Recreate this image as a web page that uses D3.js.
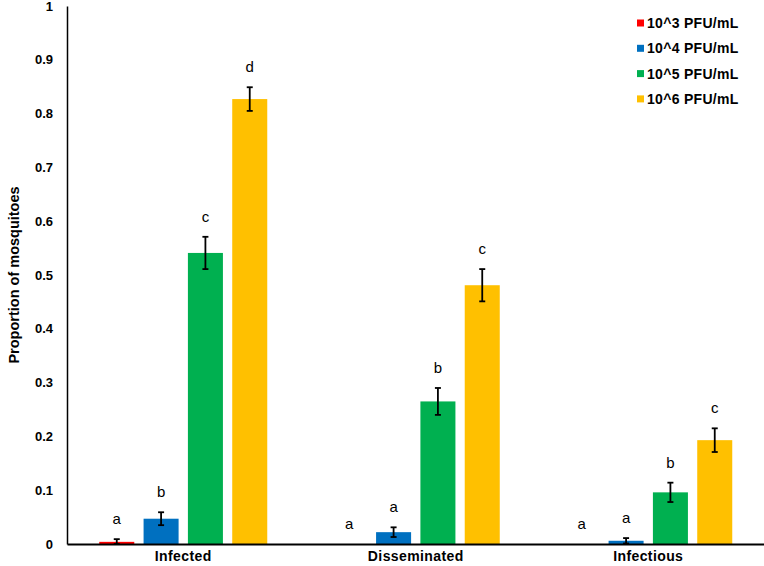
<!DOCTYPE html>
<html>
<head>
<meta charset="utf-8">
<script src="https://cdn.jsdelivr.net/npm/d3@7"></script>
<style>
  body { margin: 0; background: #fff; }
  text { font-family: "Liberation Sans", Arial, sans-serif; }
</style>
</head>
<body>
<script>
// groups along x and the four titres
const groups = ["Infected", "Disseminated", "Infectious"];
const doses = ["10^3 PFU/mL", "10^4 PFU/mL", "10^5 PFU/mL", "10^6 PFU/mL"];
const colors = ["#FF0000", "#0070C0", "#00B050", "#FFC000"];

// proportions per dose, one value per group
const val_1e3 = [0.004, 0, 0];
const val_1e4 = [0.047, 0.022, 0.006];
const val_1e5 = [0.541, 0.265, 0.096];
const val_1e6 = [0.827, 0.481, 0.193];

// error bar half-widths
const err_1e3 = [0.005, 0, 0];
const err_1e4 = [0.012, 0.009, 0.005];
const err_1e5 = [0.030, 0.025, 0.018];
const err_1e6 = [0.022, 0.030, 0.022];

// significance letters
const let_1e3 = ["a", "a", "a"];
const let_1e4 = ["b", "a", "a"];
const let_1e5 = ["c", "b", "b"];
const let_1e6 = ["d", "c", "c"];

const yTicks = [0, 0.1, 0.2, 0.3, 0.4, 0.5, 0.6, 0.7, 0.8, 0.9, 1];

const vals = [val_1e3, val_1e4, val_1e5, val_1e6];
const errs = [err_1e3, err_1e4, err_1e5, err_1e6];
const lets = [let_1e3, let_1e4, let_1e5, let_1e6];

const width = 764, height = 566;
const margin = { left: 67, top: 6, right: 0, bottom: 22 };

const svg = d3.select("body").append("svg")
  .attr("width", width)
  .attr("height", height);

const x = d3.scaleBand()
  .domain(groups)
  .range([margin.left, width + 0.5]);

const xInner = d3.scaleBand()
  .domain(doses)
  .range([0, 168])
  .paddingInner(0.21);

const y = d3.scaleLinear()
  .domain([0, 1])
  .range([height - margin.bottom, margin.top]);

const rows = [];
groups.forEach((g, gi) => {
  doses.forEach((d, di) => {
    rows.push({
      group: g, dose: d, color: colors[di],
      v: vals[di][gi], e: errs[di][gi], l: lets[di][gi]
    });
  });
});

const bx = r => x(r.group) + (x.bandwidth() - 168) / 2 + xInner(r.dose);

// bars
svg.append("g").selectAll("rect")
  .data(rows)
  .join("rect")
  .attr("x", bx)
  .attr("width", xInner.bandwidth())
  .attr("y", r => y(r.v))
  .attr("height", r => y(0) - y(r.v))
  .attr("fill", r => r.color);

// error bars
const eb = svg.append("g").attr("stroke", "#000").attr("stroke-width", 1.8);
rows.filter(r => r.e > 0).forEach(r => {
  const cx = bx(r) + xInner.bandwidth() / 2;
  const top = y(r.v + r.e), bot = y(Math.max(0, r.v - r.e));
  eb.append("line").attr("x1", cx).attr("x2", cx).attr("y1", top).attr("y2", bot);
  eb.append("line").attr("x1", cx - 3).attr("x2", cx + 3).attr("y1", top).attr("y2", top);
  eb.append("line").attr("x1", cx - 3).attr("x2", cx + 3).attr("y1", bot).attr("y2", bot);
});

// letters
svg.append("g").selectAll("text")
  .data(rows)
  .join("text")
  .attr("x", r => bx(r) + xInner.bandwidth() / 2)
  .attr("y", r => y(r.v + r.e) - 15)
  .attr("text-anchor", "middle")
  .attr("font-size", 15)
  .attr("fill", "#000")
  .text(r => r.l);

// y axis
const yAxis = svg.append("g")
  .attr("transform", `translate(${margin.left},0)`)
  .call(d3.axisLeft(y).tickValues(yTicks).tickSize(0).tickPadding(14)
    .tickFormat(d => d3.format("")(d)));
yAxis.select(".domain").attr("stroke", "#000").attr("stroke-width", 1.5);
yAxis.selectAll("text")
  .attr("font-size", 13).attr("font-weight", "bold")
  .attr("font-family", "Liberation Sans, Arial, sans-serif")
  .attr("fill", "#000");

// x axis
const xAxis = svg.append("g")
  .attr("transform", `translate(0,${y(0)})`)
  .call(d3.axisBottom(x).tickSize(0).tickPadding(7));
xAxis.select(".domain").attr("stroke", "#000").attr("stroke-width", 2);
xAxis.selectAll("text")
  .attr("font-size", 14).attr("font-weight", "bold")
  .attr("letter-spacing", 0.4)
  .attr("font-family", "Liberation Sans, Arial, sans-serif")
  .attr("fill", "#000");

// y title
svg.append("text")
  .attr("transform", `translate(19,${(y(0) + y(1)) / 2}) rotate(-90)`)
  .attr("text-anchor", "middle")
  .attr("font-size", 14.5)
  .attr("font-weight", "bold")
  .text("Proportion of mosquitoes");

// legend
const legend = svg.append("g").attr("transform", "translate(637,23)");
doses.forEach((d, i) => {
  const row = legend.append("g").attr("transform", `translate(0,${i * 25.3})`);
  row.append("rect").attr("x", 0).attr("y", -3.5).attr("width", 7).attr("height", 7)
    .attr("fill", colors[i]);
  row.append("text").attr("x", 10).attr("y", 0).attr("dy", "0.35em")
    .attr("font-size", 14).attr("font-weight", "bold")
    .attr("letter-spacing", 0.3)
    .text(d);
});
</script>
</body>
</html>
